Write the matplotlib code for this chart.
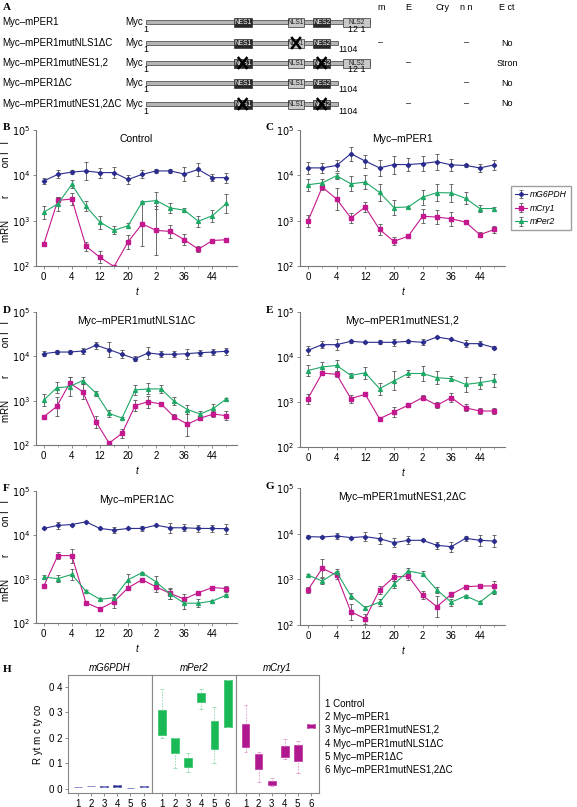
import numpy as np
import matplotlib
matplotlib.use("Agg")
import matplotlib.pyplot as plt
from matplotlib.patches import Rectangle
from matplotlib.ticker import FixedLocator, NullLocator

plt.rcParams['font.family'] = ['Liberation Sans', 'DejaVu Sans']

W, H = 577, 807
BLUE = '#2b2d8e'
MAG = '#c3188e'
GRN = '#1fa866'
ERRC = '#555555'

# ---------------- data ----------------
t14 = [0, 4, 8, 12, 16, 20, 24, 28, 32, 36, 40, 44, 48, 52]
t15 = [0, 3.7, 7.4, 11.1, 14.9, 18.6, 22.3, 26.0, 29.7, 33.4, 37.1, 40.9, 44.6, 48.3, 52.0]
tick_pos = [0, 8, 16, 24, 32, 40, 48]
tick_lab = ['0', '4', '12', '20', '2', '36', '44']

# B  Control
ctrl_g6pdh = [7500, 10500, 11800, 12500, 11500, 11500, 8100, 10500, 12500, 12500, 10700, 13500, 8900, 8900]
ctrl_g6pdh_sd = [1100, 2400, 1100, 7300, 3300, 3900, 1900, 2400, 1400, 1400, 4900, 5400, 1600, 2500]
ctrl_cry1 = [300, 2800, 3000, 275, 155, 97, 340, 850, 610, 580, 380, 235, 365, 380]
ctrl_cry1_sd = [20, 500, 1100, 70, 55, 5, 140, 1750, 1500, 230, 120, 35, 25, 35]
ctrl_per2 = [1530, 2350, 6300, 2080, 930, 610, 775, 2570, 2780, 1910, 1700, 970, 1290, 2400]
ctrl_per2_sd = [570, 1050, 1400, 620, 360, 140, 100, 100, 1500, 600, 200, 320, 460, 1500]

# C  Myc-mPER1
per1_g6pdh = [14600, 14600, 16500, 30000, 20600, 14600, 17300, 17300, 18200, 20000, 17000, 16500, 14600, 17000]
per1_g6pdh_sd = [4900, 4000, 5800, 13000, 8000, 7700, 10000, 6800, 8000, 10000, 6000, 1000, 3500, 5000]
per1_cry1 = [970, 5500, 3000, 1150, 2000, 640, 350, 455, 1250, 1200, 1100, 930, 490, 640]
per1_cry1_sd = [350, 1000, 2200, 350, 600, 210, 80, 20, 550, 500, 450, 30, 70, 120]
per1_per2 = [6200, 6800, 9800, 6500, 7100, 4200, 1950, 2000, 3300, 4150, 4100, 3100, 1850, 1850]
per1_per2_sd = [2200, 1600, 1500, 3000, 2900, 2300, 850, 100, 1500, 2300, 2400, 1100, 350, 150]

# D  Myc-mPER1mutNLS1dC (15 time points)
nls_g6pdh = [11500, 12500, 12500, 13200, 17800, 14200, 11100, 8850, 11900, 11100, 11100, 11500, 12100, 12500, 13000]
nls_g6pdh_sd = [1500, 1500, 1500, 2500, 3500, 7000, 2500, 1300, 4000, 1800, 1800, 3500, 2000, 2000, 2500]
nls_cry1 = [433, 740, 2480, 1600, 333, 110, 184, 770, 950, 840, 433, 295, 404, 500, 458]
nls_cry1_sd = [30, 500, 900, 800, 120, 10, 50, 250, 350, 40, 60, 250, 40, 70, 120]
nls_per2 = [1030, 1950, 2080, 2850, 1470, 515, 405, 1750, 1840, 1840, 970, 630, 500, 670, 1100]
nls_per2_sd = [400, 650, 1300, 600, 220, 110, 30, 500, 600, 400, 230, 170, 100, 150, 50]

# E  Myc-mPER1mutNES1,2
nes_g6pdh = [14100, 18800, 18800, 22300, 21200, 21200, 21200, 22300, 21200, 27800, 24700, 19800, 19800, 16100]
nes_g6pdh_sd = [3500, 3500, 6000, 1500, 800, 2500, 4000, 1500, 3500, 800, 800, 3500, 2500, 1500]
nes_cry1 = [1190, 4400, 4120, 1190, 1480, 425, 600, 850, 1250, 850, 1250, 740, 630, 630]
nes_cry1_sd = [350, 500, 700, 270, 50, 30, 180, 30, 150, 150, 300, 150, 120, 100]
nes_per2 = [5000, 6000, 6500, 3900, 4450, 1980, 2940, 4300, 4300, 3470, 3300, 2460, 2690, 3040]
nes_per2_sd = [1700, 1700, 2100, 550, 1700, 700, 1850, 900, 2000, 1300, 450, 1200, 950, 1200]

# F  Myc-mPER1dC
dc_g6pdh = [14100, 16500, 17300, 19900, 14100, 12900, 14100, 14100, 16700, 14600, 14600, 14100, 14100, 13900]
dc_g6pdh_sd = [500, 3000, 800, 600, 500, 2000, 400, 1800, 500, 4500, 2800, 2800, 2800, 4000]
dc_cry1 = [686, 3400, 3400, 290, 210, 305, 630, 965, 660, 470, 350, 487, 640, 605]
dc_cry1_sd = [30, 700, 1500, 20, 10, 120, 40, 60, 200, 150, 100, 30, 30, 100]
dc_per2 = [1110, 1020, 1270, 530, 345, 375, 965, 1390, 857, 454, 282, 282, 316, 430]
dc_per2_sd = [120, 220, 400, 20, 20, 80, 350, 30, 300, 130, 100, 70, 15, 20]

# G  Myc-mPER1mutNES1,2dC
nesdc_g6pdh = [8600, 8450, 8900, 8200, 8600, 7770, 6350, 7150, 7150, 5560, 5190, 7900, 7150, 6900]
nesdc_g6pdh_sd = [700, 300, 1300, 400, 2300, 2400, 1700, 1600, 400, 1000, 1500, 1000, 2300, 2500]
nesdc_cry1 = [584, 1740, 1245, 195, 137, 584, 1120, 1180, 445, 252, 470, 690, 715, 715]
nesdc_cry1_sd = [100, 1000, 300, 100, 40, 120, 250, 250, 100, 170, 70, 30, 40, 200]
nesdc_per2 = [1245, 920, 1450, 432, 240, 316, 775, 1520, 1330, 585, 316, 432, 316, 556]
nesdc_per2_sd = [50, 150, 250, 80, 20, 60, 150, 250, 200, 80, 60, 15, 15, 100]

# H  rhythmicity boxes: q1, q3, whisker low, whisker high
h_cats = [1, 2, 3, 4, 5, 6]
g6_q1 = [0.006, 0.010, 0.006, 0.008, 0.001, 0.006]
g6_q3 = [0.008, 0.012, 0.010, 0.014, 0.003, 0.009]
g6_lo = [0.006, 0.010, 0.006, 0.008, 0.001, 0.006]
g6_hi = [0.008, 0.012, 0.010, 0.014, 0.003, 0.009]
p2_q1 = [0.212, 0.139, 0.087, 0.339, 0.155, 0.242]
p2_q3 = [0.308, 0.199, 0.122, 0.376, 0.267, 0.429]
p2_lo = [0.199, 0.080, 0.064, 0.313, 0.100, 0.242]
p2_hi = [0.392, 0.199, 0.139, 0.392, 0.321, 0.429]
c1_q1 = [0.163, 0.078, 0.014, 0.126, 0.109, 0.238]
c1_q3 = [0.254, 0.136, 0.030, 0.166, 0.172, 0.254]
c1_lo = [0.143, 0.025, 0.012, 0.116, 0.060, 0.238]
c1_hi = [0.329, 0.143, 0.041, 0.196, 0.189, 0.254]
h_legend = ['1 Control', '2 Myc–mPER1', '3 Myc–mPER1mutNES1,2', '4 Myc–mPER1mutNLS1ΔC',
            '5 Myc–mPER1ΔC', '6 Myc–mPER1mutNES1,2ΔC']

# A  constructs: name, end residue, crossed domains
constructs = ['Myc–mPER1', 'Myc–mPER1mutNLS1ΔC', 'Myc–mPER1mutNES1,2', 'Myc–mPER1ΔC', 'Myc–mPER1mutNES1,2ΔC']
ends = [1291, 1104, 1291, 1104, 1104]
crossed = [[], ['NLS1'], ['NES1', 'NES2'], [], ['NES1', 'NES2']]
domains = {'NES1': (505, 610), 'NLS1': (820, 910), 'NES2': (965, 1060), 'NLS2': (1135, 1291)}
tab_head = ['m', 'E', 'Cry', 'n n', 'E ct']
tab_rows = [['', '', '', '', ''], ['–', '', '', '–', 'No'], ['', '–', '', '', 'Stron'],
            ['', '', '', '–', 'No'], ['', '–', '', '–', 'No']]

fig = plt.figure(figsize=(W / 100, H / 100), dpi=100)


def add_ax(x0, y0, x1, y1):
    return fig.add_axes([x0 / W, 1 - y1 / H, (x1 - x0) / W, (y1 - y0) / H])


def ftext(x, y, s, **kw):
    fig.text(x / W, 1 - y / H, s, **kw)


# ---------------- panel A ----------------
axA = add_ax(0, 0, W, 115)
axA.set_xlim(0, W)
axA.set_ylim(115, 0)
axA.axis('off')
bar0, bar1 = 146, 370


def r2x(r):
    return bar0 + (r - 1) * (bar1 - bar0) / 1290.0


rows_y = [22, 43, 63, 83, 104]
col_x = [381, 408, 442, 466, 507]
for j, h in enumerate(tab_head):
    axA.text(col_x[j], 8, h, fontsize=6.5, ha='center', va='center')
for i, name in enumerate(constructs):
    y = rows_y[i]
    axA.text(2, y, name, fontsize=7, va='center')
    axA.text(143, y, 'Myc', fontsize=7, va='center', ha='right')
    xe = r2x(ends[i])
    axA.add_patch(Rectangle((bar0, y - 2), xe - bar0, 4, fc='#b5b5b5', ec='#555555', lw=0.6, zorder=2))
    axA.text(bar0, y + 7, '1', fontsize=6.5, ha='center', va='center')
    for dname, (a, b) in domains.items():
        if r2x(b) > xe + 1:
            continue
        dark = dname.startswith('NES')
        axA.add_patch(Rectangle((r2x(a), y - 4.5), r2x(b) - r2x(a), 9,
                                fc='#2a2a2a' if dark else '#c8c8c8', ec='#333333', lw=0.5, zorder=3))
        axA.text((r2x(a) + r2x(b)) / 2, y + 0.3, dname, fontsize=4.8, ha='center', va='center',
                 color='white' if dark else '#222222', zorder=4)
        if dname in crossed[i]:
            cx = (r2x(a) + r2x(b)) / 2
            axA.plot([cx - 4, cx + 4], [y - 5, y + 5], color='black', lw=1.8, zorder=5)
            axA.plot([cx - 4, cx + 4], [y + 5, y - 5], color='black', lw=1.8, zorder=5)
    axA.text(xe + 1 if ends[i] < 1291 else r2x(1213), y + 7, '1104' if ends[i] < 1291 else '12 1',
             fontsize=6.5, ha='left' if ends[i] < 1291 else 'center', va='center')
    for j, v in enumerate(tab_rows[i]):
        if v:
            axA.text(col_x[j], y, v, fontsize=6.5, ha='center', va='center')
ftext(3, 8, 'A', fontsize=8, fontweight='bold', family='Liberation Serif', va='center')


# ---------------- time course panels ----------------
def series_err(vals, sd):
    v = np.array(vals, float)
    s = np.array(sd, float)
    lo = v * s / (v + s)
    return [lo, s]


def course(box, letter, title, t, g6, g6s, c1, c1s, p2, p2s, left=True):
    x0, y0, x1, y1 = box
    ax = add_ax(x0, y0, x1, y1)
    hs = []
    for vals, sd, col, mk, lab in [(g6, g6s, BLUE, 'D', 'mG6PDH'), (c1, c1s, MAG, 's', 'mCry1'),
                                   (p2, p2s, GRN, '^', 'mPer2')]:
        e = ax.errorbar(t, vals, yerr=series_err(vals, sd), color=col, marker=mk, ms=2.8 if mk != 'D' else 2.2,
                        lw=0.8, ecolor=ERRC, elinewidth=0.6, capsize=1.5, capthick=0.6, label=lab)
        hs.append(e)
    ax.set_yscale('log')
    ax.set_ylim(100, 1e5)
    ax.set_xlim(-2.2, 55)
    ax.yaxis.set_major_locator(FixedLocator([1e2, 1e3, 1e4, 1e5]))
    ax.yaxis.set_minor_locator(NullLocator())
    ax.set_yticklabels(['$10^2$', '$10^3$', '$10^4$', '$10^5$'])
    ax.set_xticks(tick_pos)
    ax.set_xticklabels(tick_lab)
    ax.set_xticks(t14, minor=True)
    for s in ['top', 'right']:
        ax.spines[s].set_visible(False)
    for s in ['left', 'bottom']:
        ax.spines[s].set_color('#777777')
        ax.spines[s].set_linewidth(0.8)
    ax.tick_params(labelsize=7, length=2, width=0.6, color='#777777', pad=2)
    ax.tick_params(which='minor', length=1.5, width=0.5, color='#777777')
    ax.text(0.5, 0.97, title, transform=ax.transAxes, ha='center', va='top', fontsize=7.5)
    ax.set_xlabel('t', fontsize=7, style='italic', labelpad=4)
    if left:
        ax.set_ylabel('mRN        r          on l   l', fontsize=7)
        ax.yaxis.set_label_coords(-25.0 / (x1 - x0), 0.55)
    ftext(x0 - 33 if left else x0 - 34, y0 - 2, letter, fontsize=8, fontweight='bold',
          family='Liberation Serif', va='center', ha='left')
    return ax, hs


course((36, 130, 237, 266), 'B', 'Control', t14, ctrl_g6pdh, ctrl_g6pdh_sd, ctrl_cry1, ctrl_cry1_sd,
       ctrl_per2, ctrl_per2_sd)
axC, hC = course((300, 130, 505, 266), 'C', 'Myc–mPER1', t14, per1_g6pdh, per1_g6pdh_sd, per1_cry1,
                 per1_cry1_sd, per1_per2, per1_per2_sd, left=False)
course((36, 312, 237, 445), 'D', 'Myc–mPER1mutNLS1ΔC', t15, nls_g6pdh, nls_g6pdh_sd, nls_cry1, nls_cry1_sd,
       nls_per2, nls_per2_sd)
course((300, 312, 505, 447), 'E', 'Myc–mPER1mutNES1,2', t14, nes_g6pdh, nes_g6pdh_sd, nes_cry1, nes_cry1_sd,
       nes_per2, nes_per2_sd, left=False)
course((36, 491, 237, 623), 'F', 'Myc–mPER1ΔC', t14, dc_g6pdh, dc_g6pdh_sd, dc_cry1, dc_cry1_sd,
       dc_per2, dc_per2_sd)
course((300, 488, 505, 625), 'G', 'Myc–mPER1mutNES1,2ΔC', t14, nesdc_g6pdh, nesdc_g6pdh_sd, nesdc_cry1,
       nesdc_cry1_sd, nesdc_per2, nesdc_per2_sd, left=False)

leg = fig.legend(hC, ['mG6PDH', 'mCry1', 'mPer2'], loc='upper left',
                 bbox_to_anchor=(511 / W, 1 - 186 / H), fontsize=6.2, frameon=True, fancybox=False,
                 edgecolor='#888888', handlelength=1.4, borderpad=0.45, labelspacing=0.55,
                 handletextpad=0.35, borderaxespad=0)
for txt in leg.get_texts():
    txt.set_style('italic')

# ---------------- panel H ----------------
facets = [('mG6PDH', BLUE, g6_q1, g6_q3, g6_lo, g6_hi, '#8e95d8'),
          ('mPer2', '#19b955', p2_q1, p2_q3, p2_lo, p2_hi, '#8fdcae'),
          ('mCry1', '#b01890', c1_q1, c1_q3, c1_lo, c1_hi, '#e39ad0')]
hx = [68, 152, 236, 319]
for k, (name, col, q1, q3, lo, hi, wcol) in enumerate(facets):
    ax = add_ax(hx[k], 675, hx[k + 1], 793)
    q1a, q3a = np.array(q1), np.array(q3)
    ax.vlines(h_cats, lo, q1a, colors=wcol, linestyles=(0, (2, 1.5)), lw=0.6)
    ax.vlines(h_cats, q3a, hi, colors=wcol, linestyles=(0, (2, 1.5)), lw=0.6)
    ax.hlines(lo, np.array(h_cats) - 0.15, np.array(h_cats) + 0.15, colors=wcol, lw=0.6)
    ax.hlines(hi, np.array(h_cats) - 0.15, np.array(h_cats) + 0.15, colors=wcol, lw=0.6)
    ax.bar(h_cats, np.maximum(q3a - q1a, 0.002), bottom=q1a, width=0.6, color=col, edgecolor=col, lw=0.4)
    ax.set_xlim(0.27, 6.63)
    ax.set_ylim(-0.017, 0.447)
    ax.set_xticks(h_cats)
    ax.set_yticks([0.0, 0.1, 0.2, 0.3, 0.4])
    ax.set_yticklabels(['0 0', '0 1', '0 2', '0 3', '0 4'])
    for s in ax.spines.values():
        s.set_color('#888888')
        s.set_linewidth(0.8)
    ax.tick_params(labelsize=7, length=2, width=0.6, color='#777777', pad=2)
    if k > 0:
        ax.tick_params(axis='y', left=False, labelleft=False)
    else:
        ax.set_ylabel('R yt m c ty co', fontsize=7, labelpad=4)
    ax.set_title(name, fontsize=7, style='italic', pad=3)

for i, s in enumerate(h_legend):
    ftext(325, 704 + i * 13.2, s, fontsize=7, va='center')
ftext(3, 670, 'H', fontsize=8, fontweight='bold', family='Liberation Serif', va='center')

fig.savefig('out.png', dpi=100)
